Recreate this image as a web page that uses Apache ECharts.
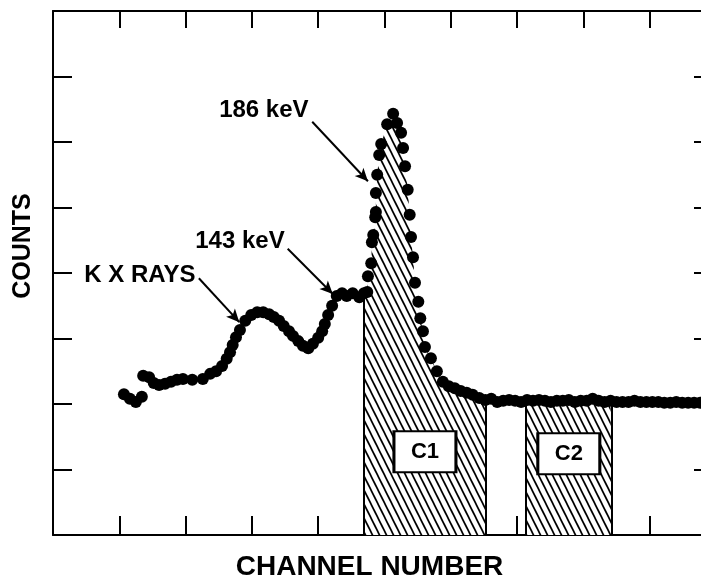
<!DOCTYPE html>
<html><head><meta charset="utf-8">
<script src="https://cdn.jsdelivr.net/npm/echarts@6/dist/echarts.min.js"></script>
<style>html,body{margin:0;padding:0;background:#fff}#c{width:701px;height:583px}</style>
</head><body><div id="c"></div>
<script>
// ---- data (channel number, counts) ----
const channels = [
  10.7, 11.6, 12.5, 13.4, 13.6, 14.5, 15.2, 16.0, 16.9, 17.8, 18.7, 19.6, 21.0, 22.6, 23.7, 24.6, 25.5, 26.2, 26.7, 27.1,
  27.6, 28.2, 29.0, 29.9, 30.8, 31.7, 32.6, 33.3, 34.1, 34.8, 35.6, 36.2, 37.0, 37.7, 38.5, 39.2, 40.0, 40.6, 41.0, 41.5,
  42.1, 42.8, 43.6, 44.3, 45.2, 46.2, 46.9, 47.4, 47.5, 48.0, 48.1, 48.3, 48.6, 48.7, 48.7, 48.9, 49.2, 49.5, 50.4, 51.3,
  51.9, 52.5, 52.8, 53.1, 53.5, 53.8, 54.0, 54.3, 54.6, 55.1, 55.4, 55.8, 56.1, 57.0, 57.9, 58.8, 59.7, 60.6, 61.5, 62.4,
  63.3, 64.3, 65.2, 66.1, 67.0, 67.9, 68.8, 69.7, 70.6, 71.5, 72.4, 73.3, 74.2, 75.1, 76.0, 76.9, 77.8, 78.7, 79.6, 80.5,
  81.4, 82.3, 83.2, 84.1, 85.0, 85.9, 86.8, 87.7, 88.6, 89.5, 90.4, 91.3, 92.2, 93.1, 94.0, 94.9, 95.8, 96.7, 97.6
];
const counts = [
  2.15, 2.08, 2.03, 2.11, 2.43, 2.41, 2.32, 2.29, 2.31, 2.34, 2.37, 2.38, 2.37, 2.38, 2.46, 2.50, 2.58, 2.69, 2.79, 2.90,
  3.02, 3.13, 3.27, 3.36, 3.40, 3.40, 3.37, 3.33, 3.27, 3.19, 3.11, 3.04, 2.96, 2.89, 2.85, 2.92, 3.01, 3.11, 3.22, 3.36,
  3.50, 3.65, 3.69, 3.65, 3.69, 3.63, 3.69, 3.71, 3.95, 4.15, 4.47, 4.58, 4.85, 4.93, 5.22, 5.50, 5.80, 5.97, 6.27, 6.43,
  6.29, 6.14, 5.91, 5.63, 5.27, 4.89, 4.55, 4.24, 3.85, 3.56, 3.31, 3.11, 2.87, 2.70, 2.50, 2.34, 2.27, 2.24, 2.20, 2.17,
  2.14, 2.09, 2.06, 2.08, 2.03, 2.05, 2.06, 2.05, 2.03, 2.06, 2.05, 2.06, 2.05, 2.03, 2.05, 2.05, 2.06, 2.03, 2.05, 2.05,
  2.08, 2.05, 2.03, 2.05, 2.03, 2.03, 2.03, 2.05, 2.03, 2.03, 2.03, 2.03, 2.02, 2.02, 2.03, 2.02, 2.02, 2.02, 2.02
];
// region of interest boundaries [start, end] channel and counts at the boundaries
const c1Range = [46.8, 65.3];
const c1EdgeCounts = [3.63, 2.06];
const c2Range = [71.3, 84.3];
const c2EdgeCounts = [2.05, 2.05];
const regionNames = ['C1', 'C2'];
const regionLabelPos = [[56.1, 1.27], [77.8, 1.24]];
// annotations
const annoText = ['186 keV', '143 keV', 'K X RAYS'];
const annoTextPos = [[31.8, 6.49], [28.2, 4.49], [13.1, 3.97]];
const annoArrowFrom = [[39.1, 6.31], [35.4, 4.37], [22.0, 3.92]];
const annoArrowTo = [[47.5, 5.40], [42.2, 3.68], [28.1, 3.25]];
// axes
const xMin = 0, xMax = 100, xStep = 10;
const yMin = 0, yMax = 8, yStep = 1;
const bottomTicks = [10, 20, 30, 40, 70, 90];

const points = channels.map((c, i) => [c, counts[i]]);
function regionData(range, edge) {
  const inner = points.filter(p => p[0] > range[0] && p[0] < range[1]);
  return [[range[0], edge[0]]].concat(inner, [[range[1], edge[1]]]);
}

function hatchCanvas() {
  const w = 7, h = 14;
  const cv = document.createElement('canvas');
  cv.width = w; cv.height = h;
  const ctx = cv.getContext('2d');
  ctx.fillStyle = '#fff'; ctx.fillRect(0, 0, w, h);
  ctx.strokeStyle = '#000'; ctx.lineWidth = 1.7;
  for (const dx of [-w, 0, w]) {
    ctx.beginPath(); ctx.moveTo(dx - w, -h); ctx.lineTo(dx + 2 * w, 2 * h); ctx.stroke();
  }
  return cv;
}
const hatch = { image: hatchCanvas(), repeat: 'repeat' };

const FONT = '"Liberation Sans", Arial, sans-serif';
const axisLine = { show: true, onZero: false, lineStyle: { color: '#000', width: 2 } };

const chart = echarts.init(document.getElementById('c'), null, { renderer: 'canvas' });
chart.setOption({
  animation: false,
  backgroundColor: '#fff',
  grid: { left: 53, right: -15, top: 11, bottom: 48, containLabel: false, outerBoundsMode: 'none' },
  xAxis: [
    { type: 'value', position: 'bottom', min: xMin, max: xMax, interval: xStep,
      axisLine, axisTick: { show: true, inside: true, length: 19, customValues: bottomTicks, lineStyle: { color: '#000', width: 2 } },
      axisLabel: { show: false }, splitLine: { show: false },
      name: 'CHANNEL NUMBER', nameLocation: 'middle', nameGap: 18,
      nameTextStyle: { fontFamily: FONT, fontWeight: 'bold', fontSize: 28, color: '#000', padding: [0, 30, 0, 0] } },
    { type: 'value', position: 'top', min: xMin, max: xMax, interval: xStep,
      axisLine, axisTick: { show: true, inside: true, length: 17, lineStyle: { color: '#000', width: 2 } },
      axisLabel: { show: false }, splitLine: { show: false } }
  ],
  yAxis: [
    { type: 'value', position: 'left', min: yMin, max: yMax, interval: yStep,
      axisLine, axisTick: { show: true, inside: true, length: 19, lineStyle: { color: '#000', width: 2 } },
      axisLabel: { show: false }, splitLine: { show: false },
      name: 'COUNTS', nameLocation: 'middle', nameGap: 17,
      nameTextStyle: { fontFamily: FONT, fontWeight: 'bold', fontSize: 25, color: '#000', padding: [0, 0, 0, 54] } },
    { type: 'value', position: 'right', min: yMin, max: yMax, interval: yStep,
      axisLine, axisTick: { show: true, inside: true, length: 22, lineStyle: { color: '#000', width: 2 } },
      axisLabel: { show: false }, splitLine: { show: false } }
  ],
  series: [
    { name: 'C1 area', type: 'line', data: regionData(c1Range, c1EdgeCounts), symbol: 'none', silent: true, z: 1,
      lineStyle: { width: 0 }, areaStyle: { color: hatch, opacity: 1 },
      markLine: { silent: true, symbol: 'none', label: { show: false },
        lineStyle: { color: '#000', width: 2, type: 'solid' },
        data: [
          [{ coord: [c1Range[0], 0] }, { coord: [c1Range[0], c1EdgeCounts[0]] }],
          [{ coord: [c1Range[1], 0] }, { coord: [c1Range[1], c1EdgeCounts[1]] }]
        ] } },
    { name: 'C2 area', type: 'line', data: regionData(c2Range, c2EdgeCounts), symbol: 'none', silent: true, z: 1,
      lineStyle: { width: 0 }, areaStyle: { color: hatch, opacity: 1 },
      markLine: { silent: true, symbol: 'none', label: { show: false },
        lineStyle: { color: '#000', width: 2, type: 'solid' },
        data: [
          [{ coord: [c2Range[0], 0] }, { coord: [c2Range[0], c2EdgeCounts[0]] }],
          [{ coord: [c2Range[1], 0] }, { coord: [c2Range[1], c2EdgeCounts[1]] }]
        ] } },
    { name: 'counts', type: 'scatter', data: points, symbolSize: 12, z: 5, silent: true,
      itemStyle: { color: '#000', opacity: 1 } },
    { name: 'arrows', type: 'line', data: [], z: 6,
      markLine: { silent: true, symbol: ['none', 'arrow'], symbolSize: [9, 13], label: { show: false },
        lineStyle: { color: '#000', width: 2, type: 'solid' },
        data: annoArrowFrom.map((f, i) => [{ coord: f }, { coord: annoArrowTo[i] }]) } },
    { name: 'annotations', type: 'scatter', z: 7, symbolSize: 1, silent: true,
      itemStyle: { color: '#fff', opacity: 1 },
      data: annoText.map((t, i) => ({ name: t, value: annoTextPos[i] })),
      label: { show: true, position: 'inside', formatter: '{b}', fontFamily: FONT, fontWeight: 'bold', fontSize: 24, color: '#000', opacity: 1 } },
    { name: 'regions', type: 'scatter', z: 8, symbol: 'rect', symbolSize: [62, 41], silent: true,
      itemStyle: { color: '#fff', borderColor: '#000', borderWidth: 2.5, opacity: 1 },
      data: regionNames.map((t, i) => ({ name: t, value: regionLabelPos[i] })),
      label: { show: true, position: 'inside', formatter: '{b}', fontFamily: FONT, fontWeight: 'bold', fontSize: 22, color: '#000', opacity: 1 } }
  ]
});
</script>
</body></html>
